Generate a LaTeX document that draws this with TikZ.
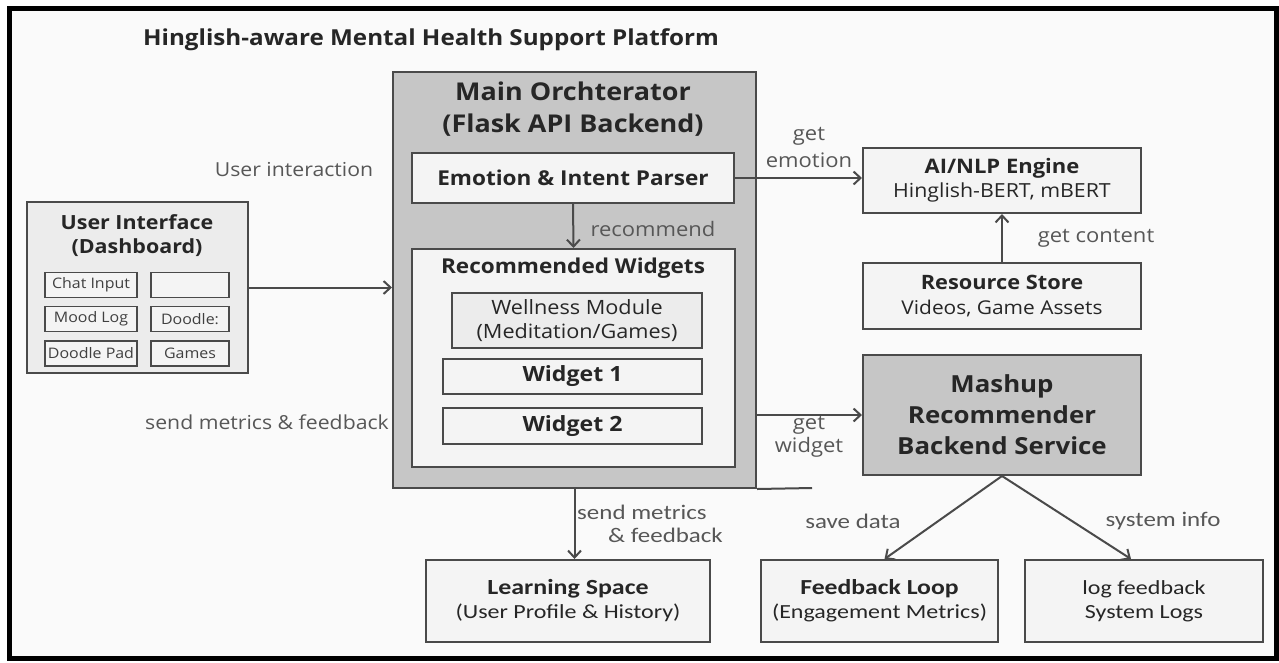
\documentclass[tikz,border=0pt]{standalone}
\usepackage{fontspec}
\setmainfont{Open Sans}[FakeStretch=1.1]
\newfontfamily\calibri{Carlito}[FakeStretch=1.2]
\usepackage{tikz}
\usetikzlibrary{
    arrows.meta,
    positioning,
    calc
}
\usepackage{xcolor}

\definecolor{borda}{HTML}{4A4A4A}
\definecolor{fundo}{HTML}{F4F4F4}
\definecolor{fundoui}{HTML}{ECECEC}
\definecolor{cinza}{HTML}{C6C6C6}
\definecolor{rotulocor}{HTML}{575757}

\newcommand{\tam}[2]{\fontsize{#1}{#2}\selectfont}

\begin{document}
\begin{tikzpicture}[
    x=1pt, y=-1pt,
    bloco/.style={
        draw=borda,
        line width=2pt,
        fill=fundo,
        inner sep=0pt,
        align=center,
        text=black!85
    },
    blococinza/.style={
        bloco,
        fill=cinza
    },
    caixinha/.style={
        draw=borda,
        line width=1.3pt,
        fill=fundo,
        inner sep=0pt,
        minimum height=25pt,
        font=\tam{14.5}{16},
        text=black!75
    },
    seta/.style={
        -{Straight Barb[length=7pt,width=13pt]},
        draw=borda,
        line width=2pt
    },
    rotulo/.style={
        text=rotulocor,
        align=center,
        inner sep=0pt,
        font=\tam{20}{27}
    },
    rotulocal/.style={
        rotulo,
        font=\calibri\tam{20.8}{23}
    }
]

% moldura e fundo
\useasboundingbox (0,0) rectangle (1279,662);
\fill[white!98!black] (9,8) rectangle (1276,658);
\draw[black, line width=5pt] (9,8) rectangle (1276,658);

\node[anchor=west, inner sep=0pt, text=black!85, font=\bfseries\tam{22}{26}]
    (titulo) at (143,40) {Hinglish-aware Mental Health Support Platform};

% interface do usuario
\node[bloco, fill=fundoui, minimum width=221pt, minimum height=171pt]
    (ui) at (137.5,287.5) {};
\node[inner sep=0pt, align=center, text=black!85, font=\bfseries\tam{19.5}{24}]
    (uititulo) at (137,236) {User Interface\\(Dashboard)};
\node[caixinha, minimum width=92pt] (chat) at (91,285) {Chat Input};
\node[caixinha, minimum width=78pt] (vazio) at (190,285) {};
\node[caixinha, minimum width=92pt] (mood) at (91,319) {Mood Log};
\node[caixinha, minimum width=78pt] (doodle) at (190,319) {Doodle:};
\node[caixinha, minimum width=92pt] (pad) at (91,353.5) {Doodle Pad};
\node[caixinha, minimum width=78pt] (games) at (190,353.5) {Games};

% orquestrador principal
\node[blococinza, minimum width=363pt, minimum height=416pt]
    (orq) at (574.5,280) {};
\node[inner sep=0pt, align=center, text=black!85, font=\bfseries\tam{24.5}{32}]
    (orqtitulo) at (573,109) {Main Orchterator\\(Flask API Backend)};
\node[bloco, minimum width=322pt, minimum height=50pt, font=\bfseries\tam{20.5}{22}]
    (parser) at (573,178) {Emotion \& Intent Parser};
\node[bloco, minimum width=323pt, minimum height=218pt]
    (widgets) at (573.5,358) {};
\node[inner sep=0pt, text=black!85, font=\bfseries\tam{20.5}{22}]
    (widgetstitulo) at (573,268) {Recommended Widgets};
\node[bloco, fill=fundoui, line width=1.6pt, minimum width=250pt, minimum height=55pt,
    font=\tam{19.7}{24}]
    (wellness) at (577,320.5) {Wellness Module\\(Meditation/Games)};
\node[bloco, line width=1.6pt, minimum width=259pt, minimum height=35pt,
    font=\bfseries\tam{21}{22}]
    (widget1) at (572.5,376.5) {Widget 1};
\node[bloco, line width=1.6pt, minimum width=259pt, minimum height=36pt,
    font=\bfseries\tam{21}{22}]
    (widget2) at (572.5,426) {Widget 2};
\coordinate (orqfim) at (812,488);
\draw[borda, line width=2pt] (orq.south east) -- (orqfim);

% servicos da direita
\node[bloco, minimum width=278pt, minimum height=65pt, font=\tam{19.4}{24}]
    (nlp) at (1002,180.5) {{\bfseries\tam{20}{24}AI/NLP Engine}\\Hinglish-BERT, mBERT};
\node[bloco, minimum width=278pt, minimum height=66pt, font=\tam{19}{25}]
    (recursos) at (1002,296) {{\bfseries\tam{19.8}{25}Resource Store}\\Videos, Game Assets};
\node[blococinza, minimum width=278pt, minimum height=120pt, font=\bfseries\tam{23.5}{31}]
    (mashup) at (1002,415) {Mashup\\Recommender\\Backend Service};

% caixas de baixo
\node[bloco, minimum width=284pt, minimum height=82pt, font=\calibri\tam{20}{24}]
    (learning) at (568,601) {{\bfseries\tam{21.6}{24}Learning Space}\\(User Profile \& History)};
\node[bloco, minimum width=237pt, minimum height=82pt, font=\calibri\tam{20}{24}]
    (feedback) at (879.5,601) {{\bfseries\tam{21.4}{24}Feedback Loop}\\(Engagement Metrics)};
\node[bloco, minimum width=238pt, minimum height=82pt, font=\calibri\tam{20}{24}]
    (logs) at (1144,601) {log feedback\\System Logs};

% setas
\draw[seta] (ui.east) -- (ui.east -| orq.west);
\draw[seta] (parser.east) -- (parser.east -| nlp.west);
\draw[seta] (parser.south) -- (widgets.north);
\draw[seta] (recursos.north) -- (nlp.south);
\draw[seta] (mashup.west -| orq.east) -- (mashup.west);
\draw[seta] (orq.south) -- (orq.south |- learning.north);
\draw[seta] (mashup.south) -- ([xshift=5pt]feedback.north);
\draw[seta] (mashup.south) -- ([xshift=-13pt]logs.north);

% rotulos
\node[rotulo, font=\tam{19.3}{27}] (lblinteracao) at (294,170) {User interaction};
\node[rotulo, font=\tam{19.3}{27}] (lblmetricas) at (267,422) {send metrics \& feedback};
\node[rotulo] (lblemocao) at (809,148) {get\\emotion};
\node[rotulo] (lblrecomenda) at (653,229) {recommend};
\node[rotulo] (lblconteudo) at (1096,238) {get content};
\node[rotulo, font=\tam{20}{23}] (lblwidget) at (809,436.5) {get\\widget};
\node[rotulocal, align=left] (lblenvia) at (650,524)
    {send metrics\\\hspace*{31pt}\& feedback};
\node[rotulocal] (lblsalva) at (853,521) {save data};
\node[rotulocal] (lblsistema) at (1163,521) {system info};

\end{tikzpicture}
\end{document}
